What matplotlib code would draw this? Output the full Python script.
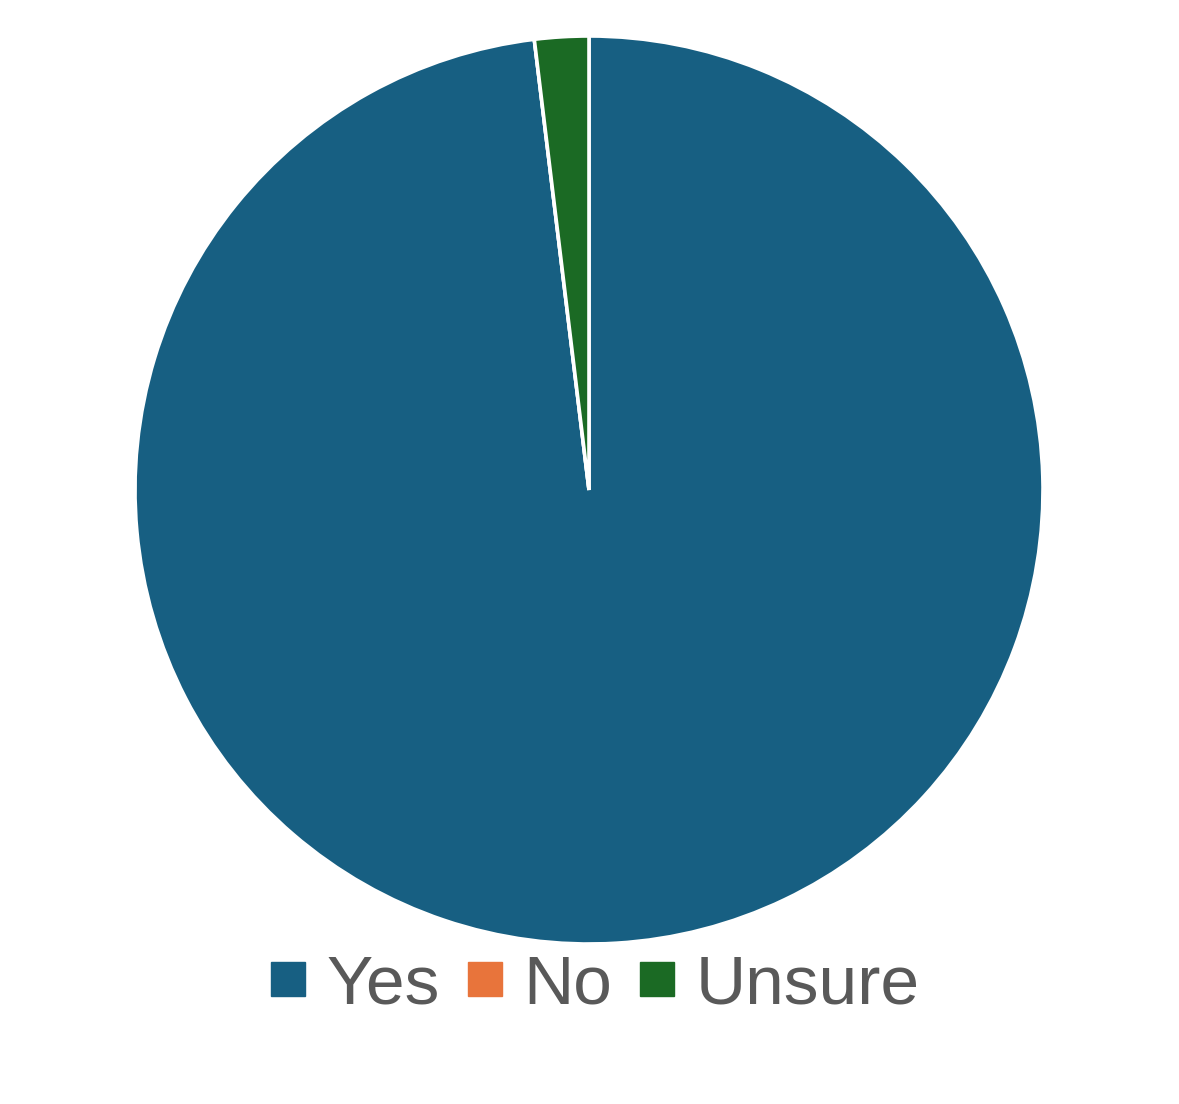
import matplotlib.pyplot as plt
from matplotlib.lines import Line2D

labels = ["Yes", "No", "Unsure"]
values = [51, 0, 1]
colors = ["#175f82", "#e8743b", "#1b6a24"]

W, H = 1179, 1104
fig = plt.figure(figsize=(W / 100, H / 100), dpi=100)

# pie area: center (589, 490), radius 454 px
cx, cy, r = 589, 490, 454
ax = fig.add_axes([(cx - r) / W, (H - cy - r) / H, 2 * r / W, 2 * r / H])
ax.pie(
    values,
    colors=colors,
    startangle=90,
    counterclock=False,
    radius=1,
    wedgeprops=dict(edgecolor="white", linewidth=2.6),
)
ax.set_xlim(-1, 1)
ax.set_ylim(-1, 1)
ax.set_aspect("equal")
ax.axis("off")

handles = [
    Line2D([], [], marker="s", linestyle="none", markersize=25,
           markerfacecolor=c, markeredgecolor=c)
    for c in colors
]
leg = fig.legend(
    handles,
    labels,
    loc="center",
    bbox_to_anchor=(595 / W, 1 - 985 / H),
    ncol=3,
    frameon=False,
    handlelength=0.5,
    handletextpad=0.3,
    columnspacing=0.4,
    prop=dict(family="Liberation Sans", size=50),
)
for t in leg.get_texts():
    t.set_color("#595959")

fig.savefig("out.png", dpi=100)
